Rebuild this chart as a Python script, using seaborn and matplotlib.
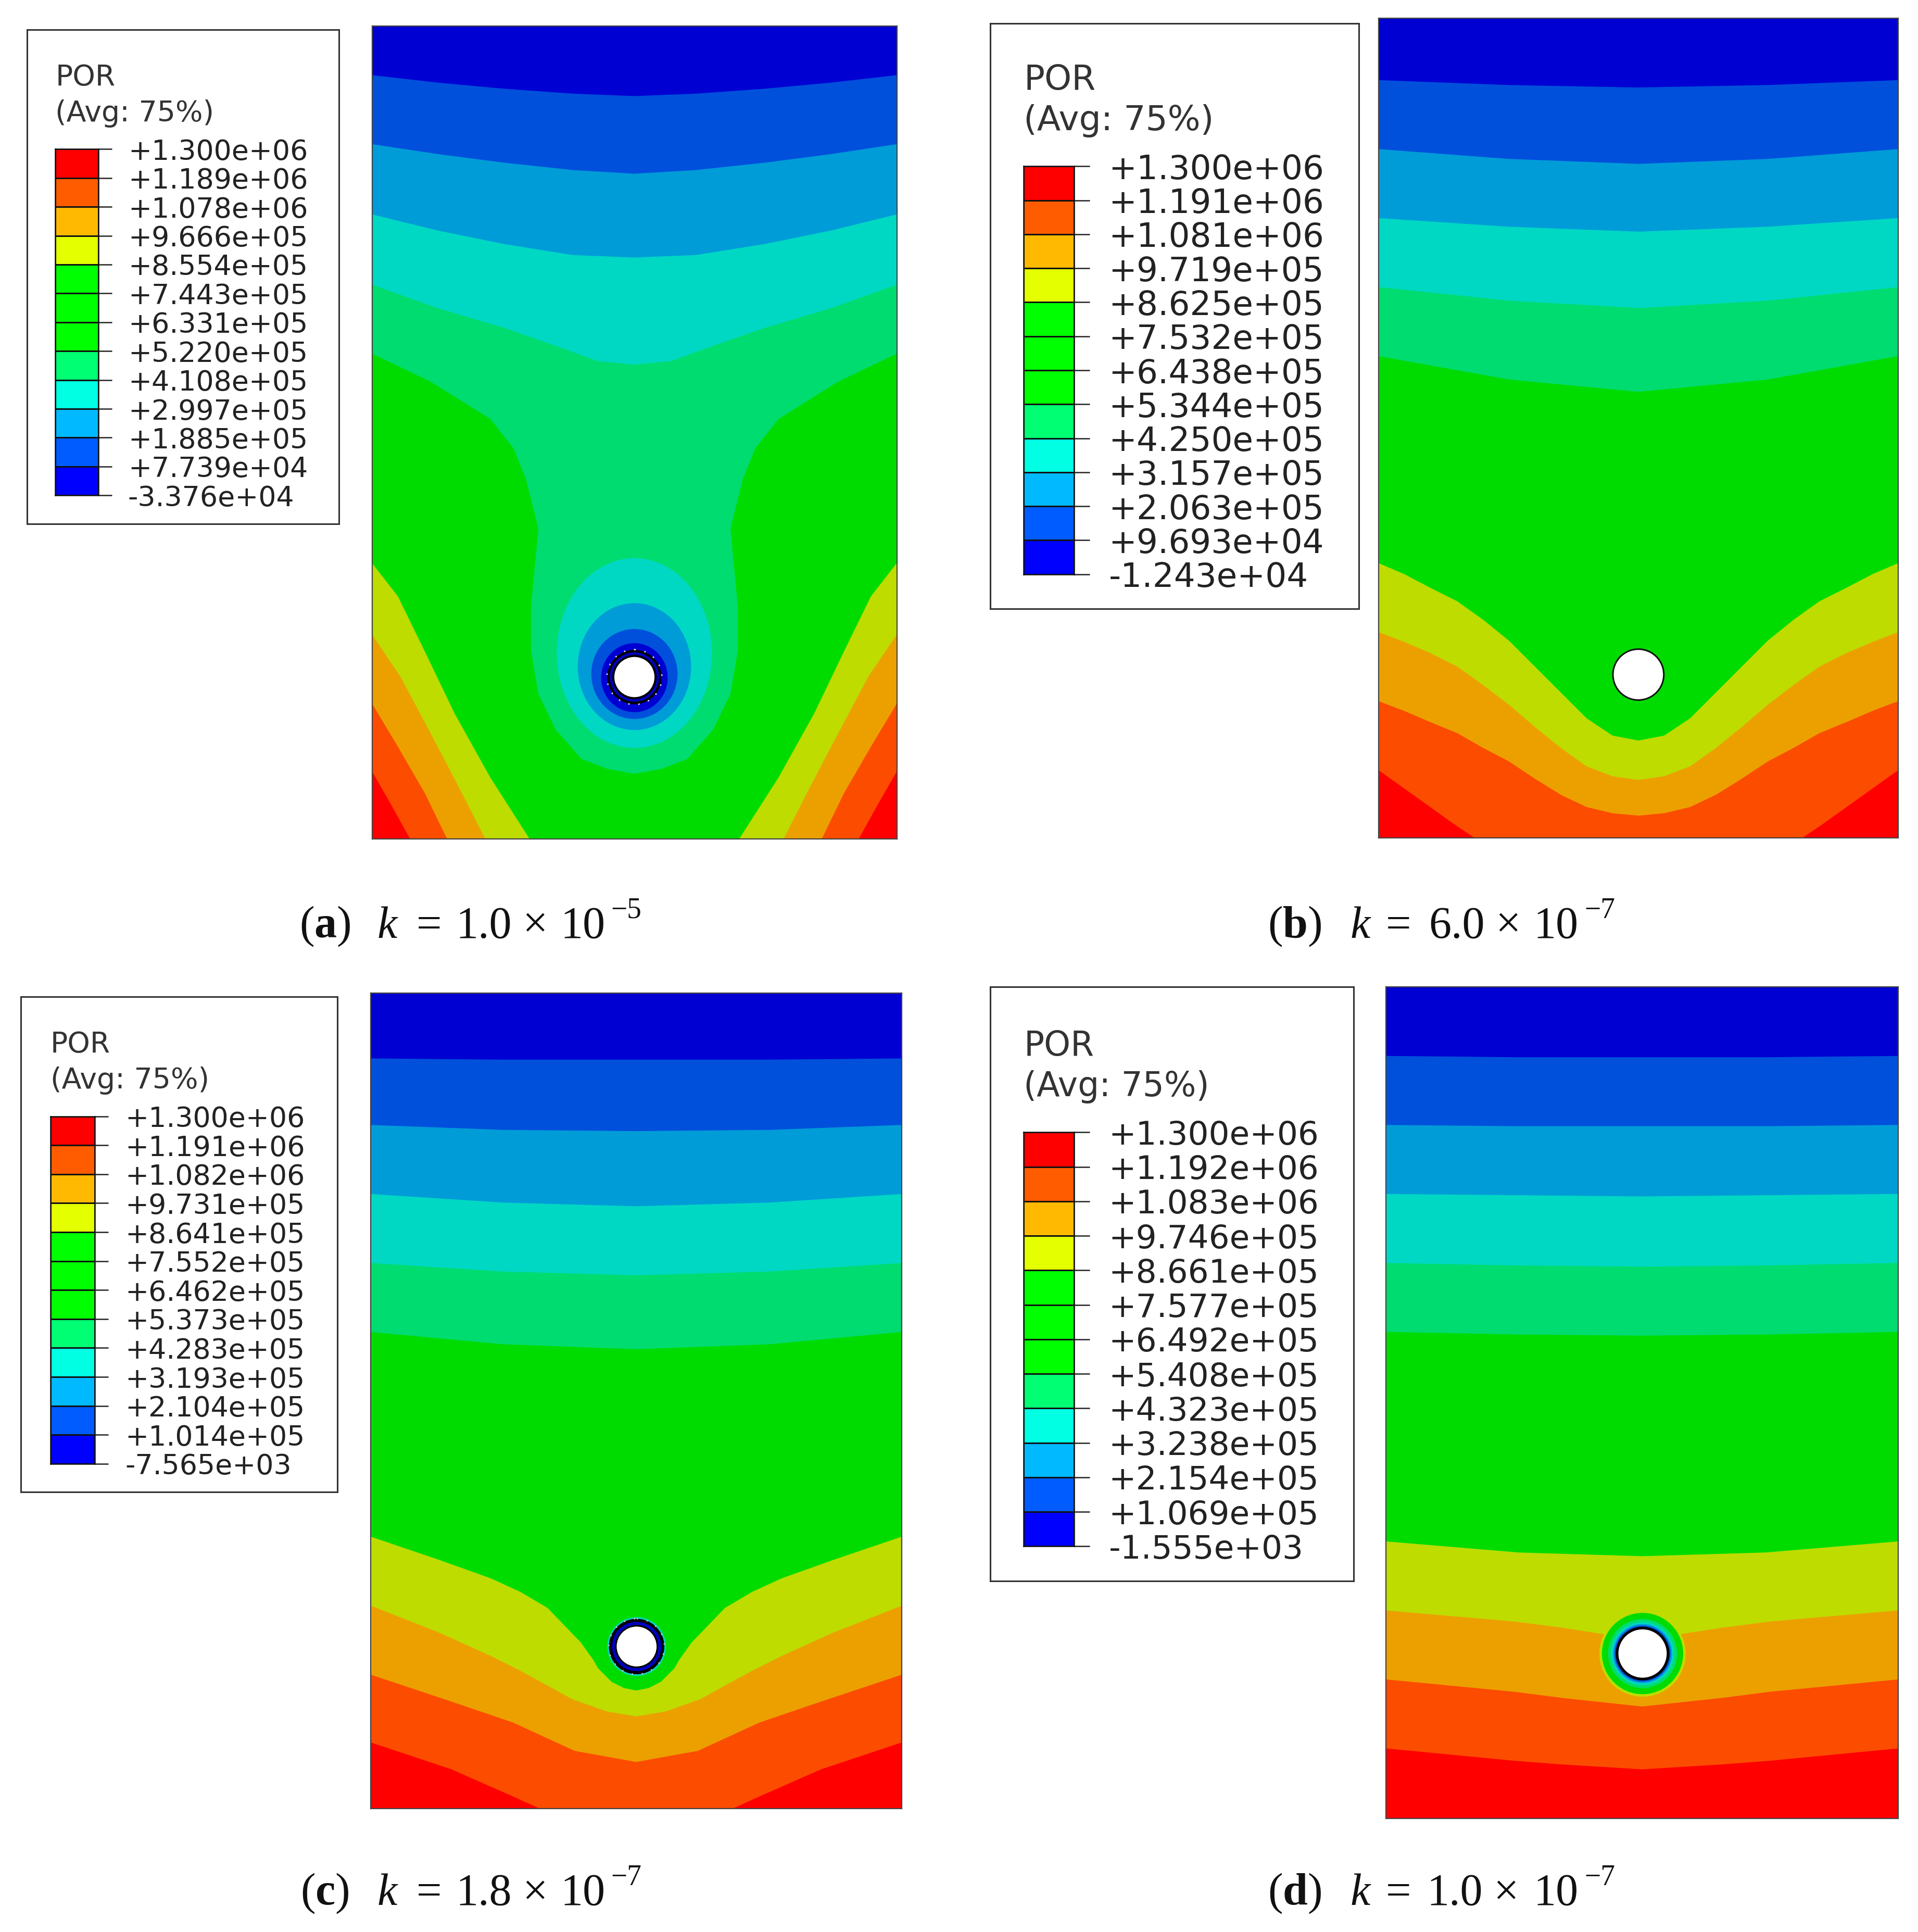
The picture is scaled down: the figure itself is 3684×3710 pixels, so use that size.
import numpy as np
import seaborn as sns
import matplotlib.pyplot as plt
from matplotlib.colors import ListedColormap
from matplotlib.patches import Circle, Ellipse

# coordinates below (1557 x 1568 view)
W, H = 1557, 1568

band_colors = ['#0000D2', '#0050DC', '#009CD8', '#00D8C4', '#00DC70', '#00DC00',
               '#BEDC00', '#ECA000', '#FC4C00', '#FF0000']
legend_colors = ['#FF0000', '#FF5C00', '#FFB900', '#E3FF00', '#00FF00', '#00FF00', '#00FF00',
                 '#00FF73', '#00FFE3', '#00B9FF', '#005CFF', '#0000FF']

labels_a = ['+1.300e+06', '+1.189e+06', '+1.078e+06', '+9.666e+05', '+8.554e+05', '+7.443e+05', '+6.331e+05',
            '+5.220e+05', '+4.108e+05', '+2.997e+05', '+1.885e+05', '+7.739e+04', '-3.376e+04']
labels_b = ['+1.300e+06', '+1.191e+06', '+1.081e+06', '+9.719e+05', '+8.625e+05', '+7.532e+05', '+6.438e+05',
            '+5.344e+05', '+4.250e+05', '+3.157e+05', '+2.063e+05', '+9.693e+04', '-1.243e+04']
labels_c = ['+1.300e+06', '+1.191e+06', '+1.082e+06', '+9.731e+05', '+8.641e+05', '+7.552e+05', '+6.462e+05',
            '+5.373e+05', '+4.283e+05', '+3.193e+05', '+2.104e+05', '+1.014e+05', '-7.565e+03']
labels_d = ['+1.300e+06', '+1.192e+06', '+1.083e+06', '+9.746e+05', '+8.661e+05', '+7.577e+05', '+6.492e+05',
            '+5.408e+05', '+4.323e+05', '+3.238e+05', '+2.154e+05', '+1.069e+05', '-1.555e+03']

# contour lines: distance from the centre line, and height at that distance
offs_a = [
    [0, 50, 106, 160, 213],
    [0, 50, 106, 160, 213],
    [0, 50, 106, 160, 213],
    [0, 30, 60, 106, 160, 213],
    [0, 22, 43, 64, 78, 84, 84, 78, 88, 98, 117, 165, 213],
    [85, 117, 146, 170, 192, 213],
    [121, 144, 165, 190, 213],
    [152, 170, 192, 213],
    [182, 197, 213],
]
ys_a = [
    [78, 76, 72, 67, 61],
    [141, 138, 132, 125, 117],
    [209, 207, 198, 187, 174],
    [296, 293, 282, 266, 250, 231],
    [628, 624, 616, 592, 563, 528, 493, 429, 389, 364, 340, 310, 287],
    [681, 631, 579, 529, 484, 457],
    [681, 636, 596, 549, 515],
    [681, 644, 606, 571],
    [681, 654, 626],
]
ell_cy_a = [530, 541, 547, 550]
ell_rx_a = [63, 46, 35, 27]
ell_ry_a = [77, 51.5, 36.5, 28]

offs_b = [
    [0, 105, 211],
    [0, 105, 211],
    [0, 105, 211],
    [0, 105, 211],
    [0, 105, 211],
    [0, 21, 42, 63, 84, 105, 126, 147, 169, 190, 211],
    [0, 21, 42, 63, 84, 105, 126, 147, 169, 190, 211],
    [0, 21, 42, 63, 84, 105, 126, 147, 169, 190, 211],
    [133, 148, 169, 190, 211],
]
ys_b = [
    [71, 69, 65],
    [133, 129, 121],
    [188, 184, 177],
    [250, 244, 233],
    [318, 308, 289],
    [601, 597, 583, 562, 541, 520, 503, 488, 477, 466, 457],
    [633, 630, 622, 607, 590, 572, 556, 541, 530, 521, 513],
    [662, 660, 655, 645, 632, 618, 607, 595, 586, 577, 569],
    [680, 670, 655, 640, 625],
]

offs_c = [
    [0, 108, 216],
    [0, 108, 216],
    [0, 108, 216],
    [0, 108, 216],
    [0, 108, 216],
    [0, 10, 20, 31, 35, 45, 72, 94, 118, 160, 216],
    [0, 24, 52, 94, 118, 160, 216],
    [0, 50, 100, 150, 216],
    [78, 100, 150, 216],
]
ys_c = [
    [860, 860, 859],
    [918, 917, 913],
    [979, 976, 969],
    [1035, 1032, 1025],
    [1095, 1091, 1081],
    [1372, 1370, 1365, 1354, 1347, 1333, 1305, 1292, 1281, 1266, 1247],
    [1393, 1389, 1379, 1356, 1344, 1325, 1303],
    [1430, 1421, 1398, 1381, 1359],
    [1468, 1458, 1436, 1414],
]

offs_d = [
    [0, 104, 208],
    [0, 104, 208],
    [0, 104, 208],
    [0, 104, 208],
    [0, 104, 208],
    [0, 100, 208],
    [0, 33, 65, 104, 208],
    [0, 65, 104, 208],
    [0, 65, 104, 208],
]
ys_d = [
    [858, 858, 857],
    [914, 914, 913],
    [971, 970, 969],
    [1028, 1027, 1025],
    [1084, 1083, 1081],
    [1263, 1260, 1251],
    [1330, 1326, 1321, 1316, 1307],
    [1385, 1378, 1373, 1363],
    [1436, 1432, 1429, 1419],
]
# rings around the hole in panel d: radius, colour
ring_r_d = [35, 33, 28, 25.5, 24, 22.8]
ring_col_d = ['#BEDC00', '#00DC00', '#00DC70', '#00D8C4', '#009CD8', '#0050DC']

sns.set_theme(style='white')
plt.rcParams['font.family'] = ['DejaVu Sans']
plt.rcParams['mathtext.fontset'] = 'custom'
plt.rcParams['mathtext.bf'] = 'Liberation Serif:bold'
plt.rcParams['mathtext.rm'] = 'Liberation Serif'

fig = plt.figure(figsize=(36.84, 37.10), dpi=100)


def axes_at(left, top, right, bottom):
    return fig.add_axes([left / W, 1 - bottom / H, (right - left) / W, (bottom - top) / H])


def draw_panel(box, offs, ys):
    left, top, right, bottom = box
    cx = (left + right) / 2
    ax = axes_at(left, top, right, bottom)
    ax.set_facecolor(band_colors[-1])
    # paint from the bottom band upwards, each one covers everything above its line
    for i in range(len(offs) - 1, -1, -1):
        o = np.array(offs[i], dtype=float)
        y = np.array(ys[i], dtype=float)
        px = np.concatenate([cx - o[::-1], cx + o, [right + 5, left - 5]])
        py = np.concatenate([y[::-1], y, [top - 5, top - 5]])
        px = np.concatenate([[left - 5], px])
        py = np.concatenate([[y[-1]], py])
        px[-1] = left - 5
        ax.fill(px, py, color=band_colors[i], lw=0)
    ax.set_xlim(left, right)
    ax.set_ylim(bottom, top)
    ax.set_xticks([])
    ax.set_yticks([])
    for s in ax.spines.values():
        s.set_color('#444444')
        s.set_linewidth(1.6)
    return ax


def draw_legend(box, bar, labels, size, por_y):
    bx = axes_at(*box)
    bx.set_xticks([])
    bx.set_yticks([])
    for s in bx.spines.values():
        s.set_color('#333333')
        s.set_linewidth(2.2)
    ax = axes_at(*bar)
    cells = np.arange(len(legend_colors)).reshape(-1, 1)
    sns.heatmap(cells, cmap=ListedColormap(legend_colors), cbar=False, linewidths=1.8, linecolor='#111111',
                xticklabels=False, yticklabels=False, ax=ax)
    for s in ax.spines.values():
        s.set_visible(True)
        s.set_color('#111111')
        s.set_linewidth(1.8)
    tick_pt = 0.31 * (bar[2] - bar[0]) * 2.366 * 0.72
    ax.yaxis.tick_right()
    ax.set_yticks(np.arange(len(labels)))
    ax.set_yticklabels(labels, fontsize=size, color='#222222', rotation=0)
    ax.tick_params(axis='y', length=tick_pt, width=1.8, color='#222222', pad=tick_pt * 1.2, right=True)
    for y, t in zip(por_y, ['POR', '(Avg: 75%)']):
        fig.text(bar[0] / W, 1 - y / H, t, fontsize=size * 1.03, color='#333333', va='center', ha='left')


def caption(letter, k_text, sup, xs, base):
    x0, xk, xeq, xnum, xt, xten, xsup = xs
    kw = dict(family='Liberation Serif', fontsize=62, color='#111111', va='baseline', ha='left')
    fig.text(x0 / W, 1 - base / H, '($\\mathbf{%s}$)' % letter, **kw)
    fig.text(xk / W, 1 - base / H, 'k', style='italic', **kw)
    fig.text(xeq / W, 1 - base / H, '=', **kw)
    fig.text(xnum / W, 1 - base / H, k_text, **kw)
    fig.text(xt / W, 1 - base / H, '×', **kw)
    fig.text(xten / W, 1 - base / H, '10', **kw)
    kw['fontsize'] = 40
    fig.text(xsup / W, 1 - (base - 16) / H, sup, **kw)


# panel a
ax_a = draw_panel((302, 21, 728, 681), offs_a, ys_a)
for cy, rx, ry, col in zip(ell_cy_a, ell_rx_a, ell_ry_a, band_colors[3::-1]):
    ax_a.add_patch(Ellipse((515, cy), 2 * rx, 2 * ry, color=col, lw=0))
ax_a.add_patch(Circle((515, 549.5), 22, color='black', lw=0))
ax_a.add_patch(Circle((515, 549.5), 22.3, fill=False, ec='#DDDDDD', lw=2, ls=(0, (1, 6))))
ax_a.add_patch(Circle((515, 549.5), 20, color='#0000C0', lw=0))
ax_a.add_patch(Circle((515, 549.5), 18, color='black', lw=0))
ax_a.add_patch(Circle((515, 549.5), 16.3, color='white', lw=0))

# panel b
ax_b = draw_panel((1119, 15, 1541, 680), offs_b, ys_b)
ax_b.add_patch(Circle((1330, 547.5), 21.3, color='#111111', lw=0))
ax_b.add_patch(Circle((1330, 547.5), 20, color='white', lw=0))

# panel c
ax_c = draw_panel((301, 806, 732, 1468), offs_c, ys_c)
ax_c.add_patch(Circle((516.8, 1336.3), 23.8, color='#00D8C4', lw=0))
ax_c.add_patch(Circle((516.8, 1336.3), 22.5, color='black', lw=0))
ax_c.add_patch(Circle((516.8, 1336.3), 22.6, fill=False, ec='#DDBBBB', lw=2, ls=(0, (1, 6))))
ax_c.add_patch(Circle((516.8, 1336.3), 20, color='#0000C0', lw=0))
ax_c.add_patch(Circle((516.8, 1336.3), 17.5, color='black', lw=0))
ax_c.add_patch(Circle((516.8, 1336.3), 16.2, color='white', lw=0))

# panel d
ax_d = draw_panel((1125, 801, 1541, 1476), offs_d, ys_d)
for r, col in zip(ring_r_d, ring_col_d):
    ax_d.add_patch(Circle((1333.4, 1342), r, color=col, lw=0))
ax_d.add_patch(Circle((1333.4, 1342), 21.8, color='black', lw=0))
ax_d.add_patch(Circle((1333.4, 1342), 19.6, color='white', lw=0))

draw_legend((22, 24, 275, 425), (45, 121, 80, 402), labels_a, 38.7, (63, 92))
draw_legend((804, 19, 1103, 494), (831, 135, 872, 466), labels_b, 46.4, (65, 98))
draw_legend((17, 809, 274, 1211), (41, 906, 77, 1188), labels_c, 38.7, (848, 877))
draw_legend((804, 801, 1099, 1283), (831, 919, 872, 1255), labels_d, 45.3, (849, 882))

caption('a', '1.0', '−5', (243, 306, 338, 370, 424, 455, 496), 761)
caption('b', '6.0', '−7', (1029, 1096, 1125, 1160, 1214, 1245, 1286), 761)
caption('c', '1.8', '−7', (244, 306, 338, 370, 424, 455, 496), 1546)
caption('d', '1.0', '−7', (1029, 1096, 1125, 1158, 1212, 1245, 1286), 1546)

fig.savefig('out.png', dpi=100)
